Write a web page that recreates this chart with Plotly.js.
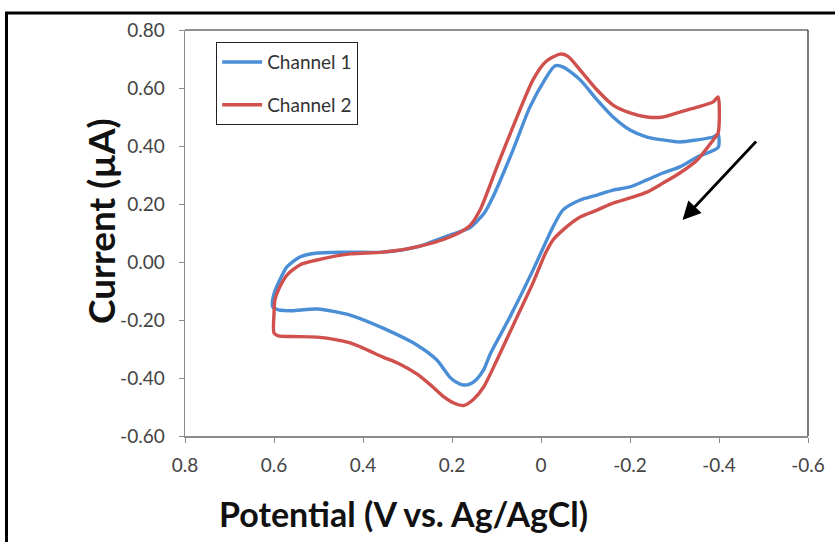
<!DOCTYPE html>
<html>
<head>
<meta charset="utf-8">
<script src="https://cdn.plot.ly/plotly-3.0.1.min.js"></script>
<style>html,body{margin:0;padding:0;background:#fff;}#chart{width:835px;height:542px;}</style>
</head>
<body>
<div id="chart"></div>
<script>
// Channel 1 (blue) – potential (V) and current (µA), one closed scan
const potentialCh1 = [-0.398,-0.398,-0.351,-0.312,-0.274,-0.238,-0.200,-0.162,-0.126,-0.088,
  -0.049,-0.027,-0.013,0.018,0.070,0.113,0.129,0.145,0.160,0.175,0.190,0.205,0.234,
  0.279,0.355,0.429,0.503,0.560,0.590,0.603,0.603,0.598,0.587,
  0.571,0.542,0.503,0.429,0.355,0.279,0.205,0.160,0.127,0.108,
  0.063,0.025,-0.009,-0.031,-0.050,-0.088,-0.126,-0.162,-0.200,-0.238,
  -0.274,-0.312,-0.351,-0.387,-0.398];
const currentCh1 = [0.440,0.395,0.362,0.328,0.307,0.283,0.259,0.248,0.231,0.214,
  0.179,0.121,0.076,-0.028,-0.190,-0.314,-0.372,-0.405,-0.421,-0.424,-0.415,-0.397,-0.338,
  -0.286,-0.228,-0.183,-0.162,-0.168,-0.165,-0.155,-0.130,-0.100,-0.062,
  -0.017,0.017,0.031,0.034,0.034,0.052,0.093,0.118,0.170,0.224,
  0.386,0.534,0.630,0.676,0.672,0.628,0.559,0.500,0.455,0.431,
  0.421,0.414,0.421,0.431,0.440];

// Channel 2 (red)
const potentialCh2 = [-0.398,-0.398,-0.387,-0.351,-0.312,-0.274,-0.238,-0.200,-0.162,-0.126,
  -0.088,-0.049,-0.027,-0.010,0.018,0.054,0.099,0.129,0.152,0.174,0.196,0.219,
  0.243,0.279,0.320,0.355,0.429,0.503,0.560,0.590,0.600,0.600,0.598,
  0.587,0.571,0.542,0.503,0.429,0.355,0.279,0.205,0.160,0.137,
  0.099,0.063,0.018,-0.010,-0.043,-0.060,-0.088,-0.126,-0.162,-0.200,
  -0.238,-0.274,-0.312,-0.351,-0.387,-0.398];
const currentCh2 = [0.569,0.445,0.421,0.352,0.307,0.272,0.241,0.221,0.203,0.179,
  0.155,0.110,0.076,0.030,-0.072,-0.190,-0.338,-0.431,-0.474,-0.495,-0.486,-0.464,
  -0.431,-0.386,-0.350,-0.328,-0.279,-0.259,-0.257,-0.255,-0.245,-0.180,-0.131,
  -0.086,-0.045,-0.010,0.007,0.028,0.034,0.052,0.086,0.125,0.179,
  0.328,0.466,0.628,0.690,0.717,0.710,0.662,0.593,0.541,0.514,
  0.500,0.500,0.517,0.534,0.552,0.569];

const seriesNames = ["Channel 1", "Channel 2"];
const xTickVals = [0.8, 0.6, 0.4, 0.2, 0, -0.2, -0.4, -0.6];
const xTickText = ["0.8", "0.6", "0.4", "0.2", "0", "-0.2", "-0.4", "-0.6"];
const yTickVals = [0.8, 0.6, 0.4, 0.2, 0, -0.2, -0.4, -0.6];
const yTickText = ["0.80", "0.60", "0.40", "0.20", "0.00", "-0.20", "-0.40", "-0.60"];
const xTitle = "Potential (V vs. Ag/AgCl)";
const yTitle = "Current (µA)";

// scan-direction arrow (data coords of tip)
const arrowTip = { x: -0.318, y: 0.145 };

const FONT = "Lato, 'Open Sans', sans-serif";

const traces = [
  { x: potentialCh1, y: currentCh1, name: seriesNames[0], legendgroup: "a", mode: "lines",
    line: { color: "#4A8ED6", width: 3.4, shape: "spline", smoothing: 0.7 } },
  { x: potentialCh2, y: currentCh2, name: seriesNames[1], legendgroup: "b", mode: "lines",
    line: { color: "#CF504C", width: 3.4, shape: "spline", smoothing: 0.7 } }
];

const layout = {
  width: 835, height: 542,
  margin: { l: 185, r: 27, t: 30, b: 106 },
  paper_bgcolor: "#fff", plot_bgcolor: "#fff",
  font: { family: FONT, color: "#444" },
  showlegend: true,
  legend: {
    x: 0.05, y: 0.97, xanchor: "left", yanchor: "top",
    bordercolor: "#222", borderwidth: 1, bgcolor: "#fff",
    font: { family: FONT, size: 19, color: "#333" },
    traceorder: "grouped", tracegroupgap: 15, itemwidth: 40
  },
  xaxis: {
    range: [0.8, -0.6], tickvals: xTickVals, ticktext: xTickText,
    showgrid: false, zeroline: false, showline: true, linecolor: "#8c8c8c", linewidth: 1.5,
    ticks: "outside", ticklen: 5, tickcolor: "#8c8c8c", ticklabelstandoff: 7,
    tickfont: { family: FONT, size: 19, color: "#444" }
  },
  yaxis: {
    range: [-0.6, 0.8], tickvals: yTickVals, ticktext: yTickText,
    showgrid: false, zeroline: false, showline: true, linecolor: "#8c8c8c", linewidth: 1.5,
    ticks: "outside", ticklen: 5, tickcolor: "#8c8c8c", ticklabelstandoff: 10,
    tickfont: { family: FONT, size: 19, color: "#444" }
  },
  shapes: [
    { type: "line", xref: "paper", yref: "paper", x0: 0, x1: 1, y0: 1, y1: 1, line: { color: "#222", width: 1.2 } },
    { type: "line", xref: "paper", yref: "paper", x0: 1, x1: 1, y0: 0, y1: 1, line: { color: "#222", width: 1.2 } },
    { type: "rect", xref: "paper", yref: "paper", x0: -0.2865, x1: 1.06, y0: -0.3, y1: 1.0419,
      line: { color: "#000", width: 3 }, fillcolor: "rgba(0,0,0,0)" }
  ],
  annotations: [
    { text: "<b>" + xTitle + "</b>", xref: "paper", yref: "paper", x: (403 - 185) / 623, y: (436 - 513) / 406,
      xanchor: "center", yanchor: "middle", showarrow: false, font: { family: FONT, size: 34, color: "#111" } },
    { text: "<b>" + yTitle + "</b>", xref: "paper", yref: "paper", x: (100 - 185) / 623, y: (436 - 221) / 406,
      xanchor: "center", yanchor: "middle", textangle: -90, showarrow: false, font: { family: FONT, size: 37, color: "#111" } },
    { x: arrowTip.x, y: arrowTip.y, xref: "x", yref: "y", ax: 75, ay: -80, text: "", showarrow: true,
      arrowhead: 2, arrowsize: 1.3, arrowwidth: 2.8, arrowcolor: "#000" }
  ]
};

Plotly.newPlot("chart", traces, layout, { displayModeBar: false, staticPlot: true });
</script>
</body>
</html>
